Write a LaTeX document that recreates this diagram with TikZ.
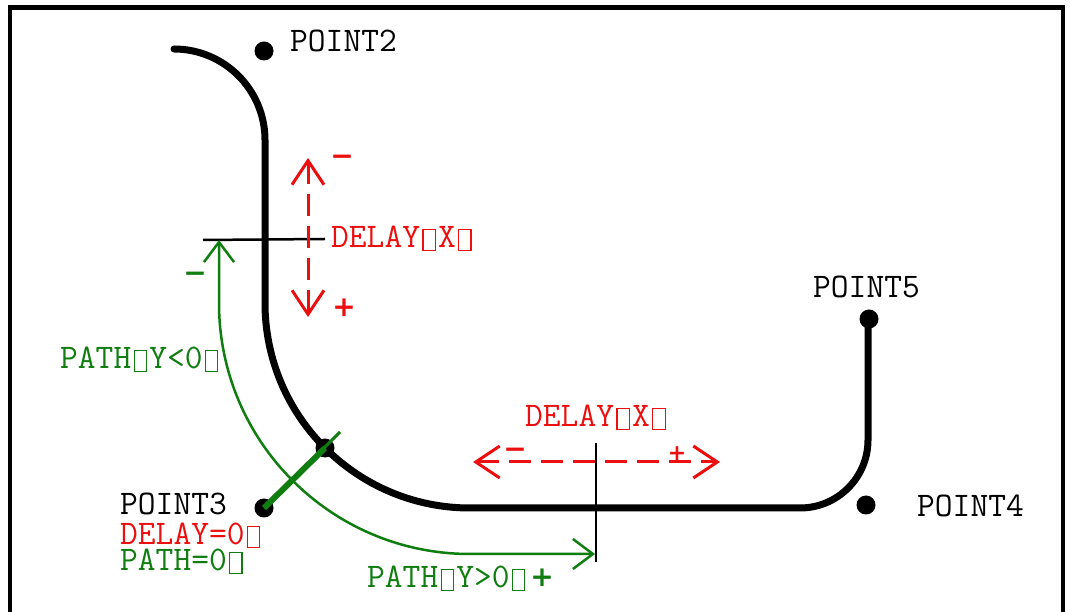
\documentclass[tikz,border=0pt]{standalone}
\usepackage{fontspec}
\newfontfamily\symf{DejaVu Sans}
\usetikzlibrary{arrows.meta}
\definecolor{myred}{RGB}{235,15,15}
\definecolor{mygreen}{RGB}{15,125,15}
\newcommand\tofu{\makebox[0.525em]{\raisebox{-0.06em}{\fboxsep=0pt\fboxrule=1.2pt\fbox{\rule{0pt}{0.58em}\hspace{0.32em}}}}}
\tikzset{
  lbl/.style={font=\ttfamily\fontsize{34.5}{36}\selectfont, inner sep=0pt, anchor=base west,
    text height=0.62em, text depth=0pt},
  sgn/.style={font=\symf\bfseries\fontsize{28}{30}\selectfont, inner sep=0pt},
  curve/.style={line width=7pt, line cap=round},
  dotn/.style={circle, fill=black, inner sep=0pt, minimum size=19pt},
  redarr/.style={myred, line width=3pt, dash pattern=on 22pt off 10pt,
    {Straight Barb[length=24pt,width=32pt,line width=3pt]}-{Straight Barb[length=24pt,width=32pt,line width=3pt]}},
  greenarr/.style={mygreen, line width=2.5pt,
    {Straight Barb[length=20pt,width=30pt,line width=2.5pt]}-{Straight Barb[length=20pt,width=30pt,line width=2.5pt]}},
  thinline/.style={line width=2.5pt}
}
\begin{document}
\begin{tikzpicture}[x=1pt,y=1pt]
\useasboundingbox (0,0) rectangle (1070,612);
\clip (0,0) rectangle (1070,612);
\draw[line width=4.5pt] (10,604.5) rectangle (1063,-30);

% main black curve
\coordinate (cstart) at (174,563);
\coordinate (P5c) at (868,293);
\draw[curve] (cstart) arc[start angle=90,end angle=0,radius=91pt]
  -- (265,309) arc[start angle=180,end angle=270,radius=205pt]
  -- (800,104) arc[start angle=270,end angle=360,radius=68pt]
  -- (P5c);

% dots
\node[dotn] (p2) at (264,561) {};
\node[dotn] (p3) at (264,104) {};
\node[dotn] (p4) at (866,107) {};
\node[dotn] (p5) at (869,293) {};
\node[dotn] (pc) at (325,164) {};

% green line through curve point
\coordinate (gend) at (340,180);
\draw[mygreen, line width=3pt] (p3.center) -- (gend);
\draw[mygreen, line width=6pt] (p3.center) -- (pc.center);

% black reference lines
\coordinate (hl1) at (203,372);
\coordinate (hl2) at (325,373);
\draw[thinline] (hl1) -- (hl2);
\coordinate (vl1) at (596,169);
\coordinate (vl2) at (596,50);
\draw[thinline] (vl1) -- (vl2);

% red arrows
\coordinate (rv1) at (308,454);
\coordinate (rv2) at (308,295);
\draw[redarr] (rv1) -- (rv2);
\coordinate (rh1) at (473,150);
\coordinate (rh2) at (720,150);
\draw[redarr] (rh1) -- (rh2);

% green arrow
\coordinate (g1) at (219,372);
\coordinate (g2) at (595,58);
\draw[greenarr] (g1) -- (219,309) arc[start angle=180,end angle=270,radius=251pt] -- (g2);

% labels
\node[lbl] (t2) at (290,560) {POINT2};
\node[lbl] (t5) at (813,314) {POINT5};
\node[lbl] (t4) at (917,95) {POINT4};
\node[lbl] (t3) at (120,97) {POINT3};
\node[lbl, text=myred] (td0) at (120,67) {DELAY=0\tofu};
\node[lbl, text=mygreen] (tp0) at (120,41) {PATH=0\tofu};
\node[lbl, text=mygreen] (tpn) at (60,243) {PATH\tofu Y<0\tofu};
\node[lbl, text=myred] (tdv) at (331,364) {DELAY\tofu X\tofu};
\node[lbl, text=myred] (tdh) at (525,185) {DELAY\tofu X\tofu};
\node[lbl, text=mygreen] (tpp) at (367,24) {PATH\tofu Y>0\tofu};

% signs
\node[sgn, text=myred] (s1) at (342,452) {−};
\node[sgn, text=myred] (s2) at (344,304) {+};
\node[sgn, text=mygreen] (s3) at (195,335) {−};
\node[sgn, text=mygreen] (s4) at (542,34) {+};
\node[sgn, text=myred] (s5) at (515,159) {−};
\node[sgn, text=myred, font=\symf\bfseries\fontsize{22}{24}\selectfont] (s6) at (677,158) {+};
\end{tikzpicture}
\end{document}
